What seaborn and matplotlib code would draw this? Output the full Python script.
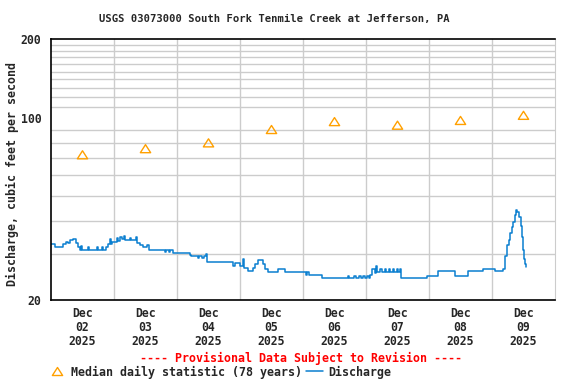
import matplotlib
matplotlib.use('Agg')
import matplotlib.pyplot as plt
import matplotlib.ticker as mticker
from matplotlib.lines import Line2D
from matplotlib.path import Path
import seaborn as sns
import pandas as pd

# discharge, hours since Dec 02 00:00 and cfs
q_hours = [0, 1.5, 4.6, 5.7, 6.5, 7.2, 8.4, 9.5, 10.3, 11.0,
           11.4, 11.8, 14.1, 14.5, 17.5, 17.9, 19.4, 19.8, 21.0, 21.7,
           22.5, 22.9, 23.2, 25.1, 25.5, 26.3, 27.0, 27.8, 28.2, 30.1,
           30.5, 32.4, 32.8, 33.9, 35.0, 36.6, 37.3, 43.4, 43.8, 45.0,
           45.3, 46.5, 53.0, 53.3, 56.0, 56.4, 57.5, 58.3, 59.0, 59.4,
           69.3, 70.1, 72.0, 73.1, 73.5, 75.0, 77.0, 77.7, 78.9, 80.8,
           81.5, 82.7, 86.5, 89.1, 97.1, 97.5, 98.3, 103.2, 113.1, 113.5,
           115.5, 116.0, 117.5, 118.0, 119.0, 119.6, 120.5, 121.0, 121.5, 122.3,
           123.4, 123.8, 124.2, 125.3, 126.1, 127.2, 127.6, 128.7, 129.1, 130.3,
           130.7, 131.8, 132.2, 133.0, 133.3, 143.2, 147.4, 153.9, 158.9, 164.6,
           169.1, 172.2, 173.0, 173.7, 174.3, 174.9, 175.6, 176.0, 176.6, 177.1,
           177.7, 178.3, 178.9, 179.4, 179.8, 180.2, 180.6, 181.0]
q_cfs = [32.8, 32.0, 32.8, 33.5, 33.0, 33.9, 34.3, 33.2, 31.8, 31.0,
         32.3, 31.1, 32.0, 31.1, 32.0, 31.1, 32.0, 31.1, 32.0, 32.8,
         34.3, 32.8, 33.4, 34.6, 33.8, 35.0, 34.2, 35.3, 34.0, 34.6,
         34.0, 35.0, 33.2, 32.6, 32.0, 32.4, 31.1, 30.5, 31.1, 30.5,
         31.1, 30.2, 29.8, 29.4, 28.9, 29.4, 28.9, 29.4, 29.9, 28.0,
         27.0, 27.8, 27.0, 28.8, 26.5, 25.8, 26.5, 27.4, 28.5, 27.4,
         26.4, 25.6, 26.3, 25.6, 24.9, 25.6, 24.9, 24.2, 24.7, 24.2,
         24.7, 24.2, 24.7, 24.2, 24.7, 24.2, 24.7, 24.2, 25.0, 26.2,
         25.3, 27.0, 25.6, 26.2, 25.6, 26.2, 25.6, 26.2, 25.6, 26.2,
         25.6, 26.2, 25.6, 26.2, 24.2, 24.8, 25.8, 24.8, 25.8, 26.3,
         25.8, 26.3, 29.4, 32.5, 34.0, 36.1, 38.2, 39.9, 42.3, 44.2,
         43.5, 41.5, 38.5, 35.0, 31.1, 28.8, 27.5, 26.8]

# median daily statistic, plotted at noon of each day
days = ['02', '03', '04', '05', '06', '07', '08', '09']
median_cfs = [72, 76, 80, 90, 96.5, 93.5, 97.5, 102]

q = pd.DataFrame({'hours': q_hours, 'cfs': q_cfs})
med = pd.DataFrame({'hours': [12 + 24 * i for i in range(len(days))], 'cfs': median_cfs})

sns.set_style('white')
plt.rcParams['font.family'] = ['DejaVu Sans Mono']
plt.rcParams['font.weight'] = 'bold'

blue = '#0A7FD0'
orange = '#FFA000'
# open triangle, a little wider than tall like the USGS marker
tri = Path([(-1, -0.78), (1, -0.78), (0, 0.78), (-1, -0.78)],
           [Path.MOVETO, Path.LINETO, Path.LINETO, Path.CLOSEPOLY])

fig = plt.figure(figsize=(5.76, 3.84), dpi=100)
ax = fig.add_axes([51 / 576, 1 - 300 / 384, 504 / 576, 261 / 384])

sns.lineplot(data=q, x='hours', y='cfs', ax=ax, color=blue, linewidth=1.1,
             drawstyle='steps-post', estimator=None, sort=False)
sns.scatterplot(data=med, x='hours', y='cfs', ax=ax, marker=tri, s=55,
                facecolors='none', edgecolor=orange, linewidth=1, zorder=5)

ax.set_yscale('log')
ax.set_ylim(20, 200)
ax.set_xlim(0, 192)

ax.yaxis.set_major_locator(mticker.FixedLocator([20, 100, 200]))
ax.yaxis.set_major_formatter(mticker.FixedFormatter(['20', '100', '200']))
ax.yaxis.set_minor_locator(mticker.FixedLocator(list(range(30, 200, 10))))
ax.yaxis.set_minor_formatter(mticker.NullFormatter())

ax.set_xticks([12 + 24 * i for i in range(len(days))])
ax.set_xticklabels(['Dec\n' + d + '\n2025' for d in days])
ax.xaxis.set_minor_locator(mticker.FixedLocator([24 * i for i in range(1, 8)]))

ax.grid(False)
ax.grid(which='minor', color='#cccccc', linewidth=1)
ax.set_axisbelow(True)
ax.tick_params(which='both', length=0)
ax.tick_params(axis='y', pad=7, labelsize=8.3)
ax.tick_params(axis='x', pad=5, labelsize=8.3)
for lbl in ax.get_xticklabels():
    lbl.set_linespacing(1.1)

for side in ['left', 'bottom', 'top']:
    ax.spines[side].set_color('black')
    ax.spines[side].set_linewidth(1.2)
ax.spines['right'].set_color('#cccccc')
ax.set_xlabel('')
ax.set_ylabel('')

fig.text(274.5 / 576, 1 - 19 / 384, 'USGS 03073000 South Fork Tenmile Creek at Jefferson, PA',
         ha='center', va='center', fontsize=7.6)
fig.text(12 / 576, 1 - 174.5 / 384, 'Discharge, cubic feet per second',
         ha='center', va='center', rotation=90, fontsize=8.4)
fig.text(301 / 576, 1 - 358 / 384, '---- Provisional Data Subject to Revision ----',
         ha='center', va='center', fontsize=8.4, color='red')

handles = [Line2D([], [], marker=tri, markersize=7.4, markerfacecolor='none',
                  markeredgecolor=orange, linestyle='none'),
           Line2D([], [], color=blue, linewidth=1.1)]
fig.legend(handles, ['Median daily statistic (78 years)', 'Discharge'],
           loc='center left', bbox_to_anchor=(48 / 576, 1 - 372 / 384), ncol=2,
           frameon=False, fontsize=8.4, handlelength=1.5, handletextpad=0.45,
           columnspacing=0.35, borderpad=0, borderaxespad=0)

fig.savefig('out.png', dpi=100)
